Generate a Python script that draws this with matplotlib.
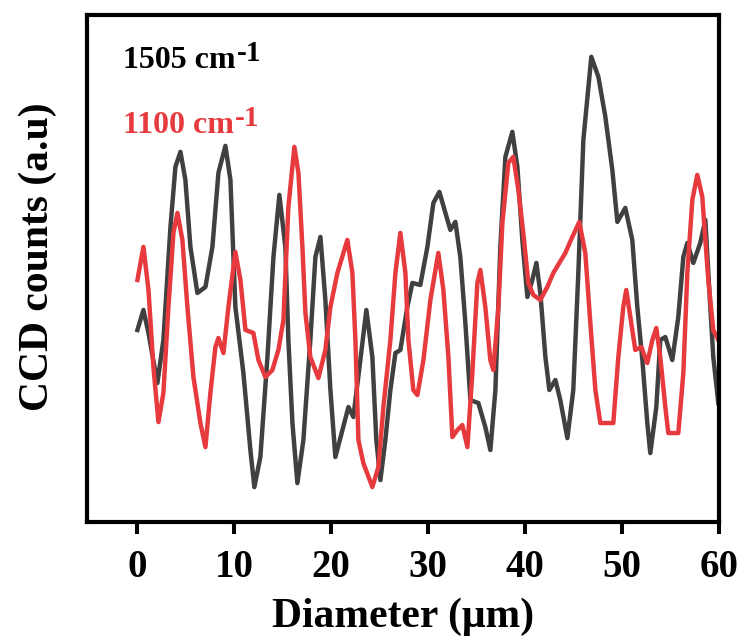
import numpy as np
import matplotlib.pyplot as plt

plt.rcParams['font.family'] = ['Liberation Serif', 'DejaVu Serif']
plt.rcParams['font.weight'] = 'bold'

# 1505 cm-1 line profile: position (um) and CCD counts (a.u.)
x_1505 = [0.0, 0.62, 1.14, 2.06, 2.68, 3.41, 3.92, 4.44, 4.95, 5.47, 6.19, 7.02, 7.74, 8.36, 9.08,
          9.60, 10.11, 10.94, 11.66, 12.07, 12.69, 13.42, 14.04, 14.65, 15.27, 15.58, 16.00, 16.51,
          17.13, 17.85, 18.37, 18.89, 19.40, 19.92, 20.43, 21.16, 21.78, 22.29, 23.01, 23.63, 24.25,
          24.66, 25.08, 25.59, 26.11, 26.63, 27.14, 27.86, 28.38, 29.20, 29.93, 30.55, 31.17, 31.79,
          32.30, 32.82, 33.33, 33.85, 34.37, 35.19, 35.91, 36.43, 36.95, 37.46, 37.98, 38.70, 39.22,
          39.73, 40.25, 40.76, 41.18, 41.59, 42.11, 42.52, 43.14, 43.65, 44.38, 44.99, 45.51, 46.03,
          46.85, 47.58, 48.30, 49.02, 49.54, 50.36, 51.08, 51.60, 52.12, 52.63, 52.94, 53.56, 53.97,
          54.49, 55.21, 55.83, 56.35, 56.76, 57.38, 58.10, 58.62, 59.03, 59.44, 59.96]
y_1505 = [270, 290, 267, 217, 260, 373, 433, 448, 420, 353, 307, 313, 353, 427, 454,
          420, 293, 227, 150, 113, 143, 243, 343, 405, 353, 260, 177, 117,
          160, 260, 343, 363, 300, 210, 143, 170, 193, 183, 240, 290, 243,
          160, 120, 160, 210, 247, 250, 293, 317, 315, 353, 397, 408, 387,
          370, 378, 343, 277, 200, 197, 173, 150, 210, 353, 443, 468, 433,
          360, 303, 320, 337, 307, 243, 210, 220, 200, 162, 210, 327, 460,
          543, 523, 483, 430, 378, 392, 360, 293, 240, 177, 147, 193, 260,
          263, 240, 283, 343, 357, 337, 357, 380, 310, 243, 197]

# 1100 cm-1 line profile
x_1100 = [0.0, 0.62, 1.14, 1.65, 2.17, 2.68, 3.20, 3.72, 4.13, 4.64, 5.16, 5.78, 6.50, 7.02, 7.53,
          8.05, 8.36, 8.88, 9.39, 10.11, 10.63, 11.15, 11.97, 12.49, 13.21, 13.93, 14.55, 15.07,
          15.58, 16.20, 16.62, 17.03, 17.34, 17.85, 18.68, 19.40, 19.92, 20.64, 21.67, 22.19, 22.50,
          22.81, 23.32, 24.25, 24.87, 25.39, 26.11, 26.63, 27.14, 27.66, 27.97, 28.48, 28.90, 29.52,
          30.24, 31.06, 31.58, 32.10, 32.51, 33.02, 33.54, 34.06, 34.57, 35.09, 35.40, 35.91, 36.43,
          36.74, 37.26, 37.67, 38.29, 38.80, 39.32, 39.83, 40.35, 40.87, 41.59, 42.31, 42.93, 44.17,
          44.89, 45.61, 46.23, 46.75, 47.27, 47.78, 49.12, 49.64, 50.15, 50.46, 50.88, 51.39, 52.01,
          52.63, 53.15, 53.56, 53.97, 54.49, 54.80, 55.83, 56.35, 56.76, 57.28, 57.79, 58.31, 58.62,
          58.93, 59.44, 59.96]
y_1100 = [320, 353, 310, 233, 178, 207, 293, 367, 387, 360, 293, 223, 177, 153, 207,
          253, 262, 247, 293, 348, 320, 270, 267, 240, 223, 230, 250, 280,
          393, 453, 427, 353, 287, 243, 222, 250, 293, 327, 360, 327, 260,
          160, 137, 113, 133, 193, 260, 327, 367, 327, 260, 210, 205, 240,
          300, 347, 310, 243, 163, 170, 175, 153, 227, 317, 330, 293, 240,
          230, 293, 377, 437, 443, 410, 367, 317, 305, 300, 313, 327, 347,
          363, 378, 347, 277, 210, 177, 177, 243, 293, 310, 283, 250, 253,
          237, 260, 272, 243, 193, 167, 167, 227, 327, 400, 425, 403, 360,
          320, 270, 260]

labels = ['1505 cm', '1100 cm']
colors = ['#404040', '#e63a3f']

fig = plt.figure(figsize=(7.44, 6.43), dpi=100)
ax = fig.add_axes([0.117, 0.188, 0.849, 0.789])

ax.plot(x_1505, y_1505, color=colors[0], lw=3.2, solid_joinstyle='round')
ax.plot(x_1100, y_1100, color=colors[1], lw=3.2, solid_joinstyle='round')

for lab, c, ypos in zip(labels, ['black', colors[1]], [0.895, 0.767]):
    t = ax.text(0.057, ypos, lab, transform=ax.transAxes, color=c, fontsize=23, fontweight='bold')
    ax.annotate('-1', xy=(1.0, 0.0), xycoords=t, xytext=(1, 6), textcoords='offset points',
                color=c, fontsize=21, fontweight='bold', va='bottom', ha='left')

ax.set_xlim(-5.2, 60)
ax.set_ylim(78, 585)
ax.set_xticks([0, 10, 20, 30, 40, 50, 60])
ax.set_yticks([])
ax.tick_params(axis='x', direction='out', length=8.5, width=2.9, labelsize=28, pad=11)
for s in ax.spines.values():
    s.set_linewidth(3)
ax.set_xlabel('Diameter (μm)', fontsize=30, fontweight='bold', labelpad=8)
ax.set_ylabel('CCD counts (a.u)', fontsize=30, fontweight='bold')
ax.yaxis.set_label_coords(-0.048, 0.523)

plt.savefig('out.png')
